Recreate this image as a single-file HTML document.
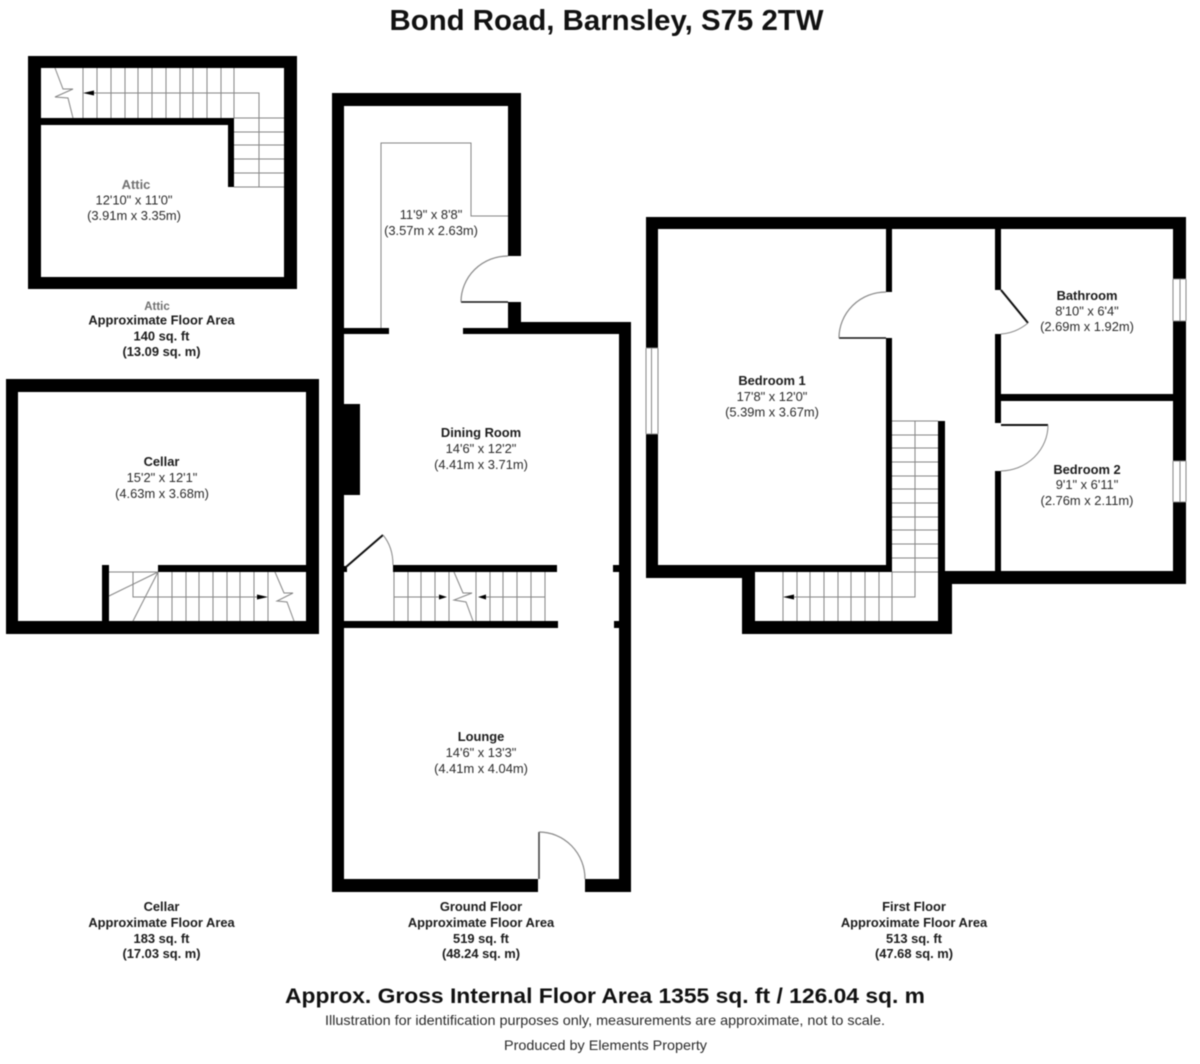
<!DOCTYPE html>
<html><head><meta charset="utf-8"><style>
html,body{margin:0;padding:0;background:#fff}
svg{display:block;filter:blur(.45px)}
text{font-family:"Liberation Sans",sans-serif;text-anchor:middle;font-size:12.9px;fill:#2b2b2b}
.b{font-weight:bold;fill:#1c1c1c}
.g{font-weight:bold;fill:#707070}
.w{fill:#000;stroke:none}
.l{stroke:#858585;stroke-width:1;fill:none}
.d{stroke:#111;stroke-width:1.6;fill:none}
</style></head><body>
<svg width="1200" height="1064" viewBox="0 0 1200 1064" xmlns="http://www.w3.org/2000/svg">
<rect width="1200" height="1064" fill="#fff"/>

<text x="606.500" y="30" class="b" style="font-size:29px;fill:#111" textLength="434" lengthAdjust="spacingAndGlyphs">Bond Road, Barnsley, S75 2TW</text>

<!-- ATTIC -->
<path class="w" fill-rule="evenodd" d="M28 56H297V289H28ZM41 68V118H228V187H234V125H41V277H284V68Z"/>
<path class="w" d="M41 118H234V125H41ZM228 118H234V187H228Z"/>
<path class="l" d="M83 68V118M97 68V118M111 68V118M125 68V118M138 68V118M152 68V118M166 68V118M180 68V118M193 68V118M207 68V118M221 68V118M234 68V118"/>
<path class="l" d="M90 93H259V187M234 118H284M234 132H284M234 145H284M234 159H284M234 173H284M234 187H284"/>
<path class="l" d="M55 68L63 89L73 89L55 97L68 98L73 118"/>
<path class="w" d="M83 93L94 90.500V95.500Z"/>

<text x="136" y="189" class="g">Attic</text>
<text x="134" y="204.500">12'10" x 11'0"</text>
<text x="134" y="220">(3.91m x 3.35m)</text>
<text x="157" y="310" class="g" style="font-size:11.500px">Attic</text>
<text x="161.500" y="324.500" class="b">Approximate Floor Area</text>
<text x="161.500" y="340.500" class="b">140 sq. ft</text>
<text x="161.500" y="356" class="b">(13.09 sq. m)</text>

<!-- CELLAR -->
<path class="w" fill-rule="evenodd" d="M6 379H319V634H6ZM18 392V621H306V392Z"/>
<path class="w" d="M102 565H109V621H102ZM158 565H306V572H158Z"/>
<path class="l" d="M109 572H158M133 572V597H258M109 596L158 572M133 621L158 572"/>
<path class="l" d="M172 572V621M186 572V621M199 572V621M213 572V621M227 572V621M240 572V621M254 572V621M268 572V621M158 572V621"/>
<path class="l" d="M275 572L284 593L293 593L277 601L287 602L294 621"/>
<path class="w" d="M268 597L257 594.500V599.500Z"/>
<text x="161.500" y="466" class="b">Cellar</text>
<text x="162" y="482">15'2" x 12'1"</text>
<text x="162" y="498">(4.63m x 3.68m)</text>
<text x="161.500" y="911" class="b">Cellar</text>
<text x="161.500" y="927" class="b">Approximate Floor Area</text>
<text x="161.500" y="943" class="b">183 sq. ft</text>
<text x="161.500" y="958" class="b">(17.03 sq. m)</text>

<!-- GROUND FLOOR -->
<path class="w" d="M332 93H521V106H332ZM332 93H344V892H332ZM508 93H521V256H508ZM508 302H521V334H508ZM508 322H631V334H508ZM619 322H631V892H619ZM344 328H389V334H344ZM463 328H508V334H463ZM344 404H360V495H344Z"/>
<path class="w" d="M332 879H538V892H332ZM585 879H631V892H585ZM393 565H557V572H393ZM344 621H558V628H344ZM613 565H619V572H613ZM614 621H619V628H614ZM344 566H347V572H344Z"/>
<path class="l" d="M381 328V143H471V216H508"/>
<path class="d" d="M461 302H508"/>
<path class="l" style="stroke:#888;stroke-width:1.200" d="M461 302A47 46 0 0 1 508 256"/>
<path class="d" style="stroke-width:2" d="M346 567L383 535"/>
<path class="l" style="stroke:#888" d="M383 535Q393 547 393 565"/>
<path class="l" d="M394 572V621M408 572V621M421 572V621M435 572V621M449 572V621M476 572V621M490 572V621M503 572V621M517 572V621M531 572V621M545 572V621M394 597H439M484 597H545"/>
<path class="l" d="M454 572L463 593L472 593L454 600L466 602L473 621"/>
<path class="w" d="M447 597L439 594.500V599.500ZM478 597L486 594.500V599.500Z"/>
<path class="d" style="stroke:#444" d="M539 832V879"/>
<path class="l" style="stroke:#888;stroke-width:1.200" d="M539 832A46 47 0 0 1 585 879"/>
<text x="431" y="219">11'9" x 8'8"</text>
<text x="431" y="235">(3.57m x 2.63m)</text>
<text x="481" y="437" class="b">Dining Room</text>
<text x="481" y="453">14'6" x 12'2"</text>
<text x="481" y="469">(4.41m x 3.71m)</text>
<text x="481" y="741" class="b">Lounge</text>
<text x="481" y="757">14'6" x 13'3"</text>
<text x="481" y="773">(4.41m x 4.04m)</text>
<text x="481" y="911" class="b">Ground Floor</text>
<text x="481" y="927" class="b">Approximate Floor Area</text>
<text x="481" y="943" class="b">519 sq. ft</text>
<text x="481" y="958" class="b">(48.24 sq. m)</text>

<!-- FIRST FLOOR -->
<path class="w" d="M646 217H1186V229H646ZM646 217H658V348H646ZM646 434H658V578H646ZM646 565H892V572H646ZM646 572H755V578H646ZM742 572H755V634H742ZM742 621H952V634H742ZM938 421H945V634H938ZM938 584H952V634H938ZM938 571H1186V584H938Z"/>
<path class="w" d="M1173 217H1186V279H1173ZM1173 321H1186V461H1173ZM1173 502H1186V584H1173ZM886 229H892V292H886ZM886 338H892V572H886ZM995 229H1001V290H995ZM995 334H1001V423H995ZM995 471H1001V571H995ZM1001 394H1173V401H1001Z"/>
<path class="l" d="M646 348V434M651.500 348V434M658 348V434M646 348H658M646 434H658M1173 279V321M1180 279V321M1186 279V321M1173 279H1186M1173 321H1186M1173 461V502M1180 461V502M1186 461V502M1173 461H1186M1173 502H1186"/>
<path class="d" d="M839 338H886"/>
<path class="l" style="stroke:#888;stroke-width:1.200" d="M839 338A47 46 0 0 1 886 292"/>
<path class="d" style="stroke-width:2" d="M1001 290L1028 323"/>
<path class="l" style="stroke:#888" d="M1028 323Q1016 333 1001 334"/>
<path class="d" style="stroke-width:2" d="M1001 425H1048"/>
<path class="l" style="stroke:#888" d="M1048 425A48 46 0 0 1 1001 471"/>
<path class="l" d="M892 421H938M892 435H938M892 448H938M892 462H938M892 476H938M892 489H938M892 503H938M892 517H938M892 530H938M892 544H938M892 558H938M892 572H938M915 421V597H790"/>
<path class="l" d="M783 572V621M797 572V621M810 572V621M824 572V621M838 572V621M851 572V621M865 572V621M879 572V621M892 572V621"/>
<path class="w" d="M783 597L794 594.500V599.500Z"/>
<text x="772" y="385" class="b">Bedroom 1</text>
<text x="772" y="401">17'8" x 12'0"</text>
<text x="772" y="416.500">(5.39m x 3.67m)</text>
<text x="1087" y="300" class="b">Bathroom</text>
<text x="1087" y="315.500">8'10" x 6'4"</text>
<text x="1087" y="331">(2.69m x 1.92m)</text>
<text x="1087" y="474" class="b">Bedroom 2</text>
<text x="1087" y="489">9'1" x 6'11"</text>
<text x="1087" y="505">(2.76m x 2.11m)</text>
<text x="914" y="911" class="b">First Floor</text>
<text x="914" y="927" class="b">Approximate Floor Area</text>
<text x="914" y="943" class="b">513 sq. ft</text>
<text x="914" y="958" class="b">(47.68 sq. m)</text>

<!-- FOOTER -->
<text x="605" y="1003" class="b" style="font-size:21.500px;fill:#111" textLength="640" lengthAdjust="spacingAndGlyphs">Approx. Gross Internal Floor Area 1355 sq. ft / 126.04 sq. m</text>
<text x="605" y="1025" style="font-size:14px" textLength="560" lengthAdjust="spacingAndGlyphs">Illustration for identification purposes only, measurements are approximate, not to scale.</text>
<text x="605.500" y="1050" style="font-size:14px" textLength="203" lengthAdjust="spacingAndGlyphs">Produced by Elements Property</text>
</svg>
</body></html>
